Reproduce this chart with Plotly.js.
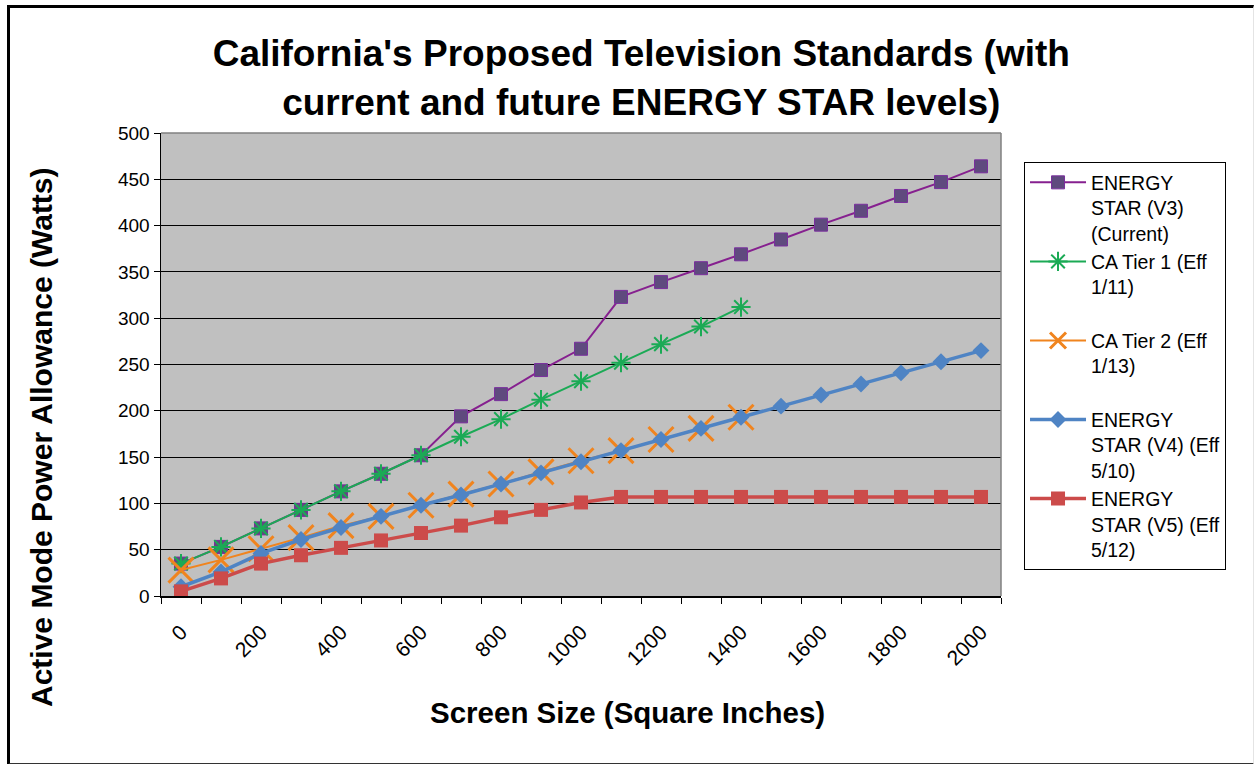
<!DOCTYPE html>
<html>
<head>
<meta charset="utf-8">
<script src="https://cdn.plot.ly/plotly-3.0.1.min.js"></script>
<style>
  html, body { margin: 0; padding: 0; background: #ffffff; }
  #wrap { position: relative; width: 1255px; height: 764px; }
  #chart { position: absolute; left: 0; top: 0; width: 1255px; height: 764px; }
  #frame { position: absolute; left: 7px; top: 5px; width: 1243px; height: 755px;
           border-left: 3px solid #000; border-top: 3px solid #000;
           border-bottom: 2px solid #333; border-right: 1px solid #e4e4e4;
           pointer-events: none; }
</style>
</head>
<body>
<div id="wrap">
  <div id="chart"></div>
  <div id="frame"></div>
</div>
<script>
// Screen sizes (square inches)
const screenSize = [0,100,200,300,400,500,600,700,800,900,1000,1100,1200,1300,1400,1500,1600,1700,1800,1900,2000];
const xTickVals = [0,200,400,600,800,1000,1200,1400,1600,1800,2000];
const xTickText = ['0','200','400','600','800','1000','1200','1400','1600','1800','2000'];

// Series values (Watts)
const energyStarV3 = [35,53,73,93,113,132,152,194,218,244,267,323,339,354,369,385,401,416,432,447,464];
const caTier1      = [35,53,73,93,113,132,152,172,191,212,232,252,272,291,312];
const caTier2      = [28,39,51,63,76,86,98,110,121,134,146,157,169,181,193];
const energyStarV4 = [10,26,46,61,74,86,98,109,121,133,145,157,169,181,193,205,217,229,241,253,265];
const energyStarV5 = [5,19,35,44,52,60,68,76,85,93,101,107,107,107,107,107,107,107,107,107,107];

const names = [
  'ENERGY<br>STAR (V3)<br>(Current)',
  'CA Tier 1 (Eff<br>1/11)<br>\u00a0',
  'CA Tier 2 (Eff<br>1/13)<br>\u00a0',
  'ENERGY<br>STAR (V4) (Eff<br>5/10)',
  'ENERGY<br>STAR (V5) (Eff<br>5/12)'
];

const FONT = 'Liberation Sans, Arial, sans-serif';

const traces = [
  {
    x: screenSize.slice(0, energyStarV3.length), y: energyStarV3, name: names[0], legendgroup: 'a',
    mode: 'lines+markers', line: {color: '#86208F', width: 2},
    marker: {symbol: 'square', size: 13, color: '#5F4A7E', line: {color: '#7A2E9E', width: 1}}
  },
  {
    x: screenSize.slice(0, caTier1.length), y: caTier1, name: names[1], legendgroup: 'b',
    mode: 'lines+markers', line: {color: '#1BAA55', width: 2},
    marker: {symbol: 'asterisk-open', size: 16, color: '#1BAA55', line: {color: '#1BAA55', width: 2}}
  },
  {
    x: screenSize.slice(0, caTier2.length), y: caTier2, name: names[2], legendgroup: 'c',
    mode: 'lines+markers', line: {color: '#F0841E', width: 2},
    marker: {symbol: 'x-thin-open', size: 25, color: '#F0841E', line: {color: '#F0841E', width: 3}}
  },
  {
    x: screenSize.slice(0, energyStarV4.length), y: energyStarV4, name: names[3], legendgroup: 'd',
    mode: 'lines+markers', line: {color: '#4F84C4', width: 3.5},
    marker: {symbol: 'diamond', size: 13, color: '#4F84C4'}
  },
  {
    x: screenSize.slice(0, energyStarV5.length), y: energyStarV5, name: names[4], legendgroup: 'e',
    mode: 'lines+markers', line: {color: '#CC4B4A', width: 3.5},
    marker: {symbol: 'square', size: 14, color: '#CC4B4A'}
  }
];

const layout = {
  width: 1255, height: 764,
  margin: {l: 161, r: 254, t: 133, b: 168, pad: 0},
  paper_bgcolor: '#ffffff',
  plot_bgcolor: '#C0C0C0',
  font: {family: FONT, color: '#000000', size: 19},
  showlegend: true,
  title: {
    text: "California's Proposed Television Standards (with<br>current and future ENERGY STAR levels)",
    font: {family: FONT, size: 37, color: '#000000', weight: 'bold'},
    xref: 'container', x: 0.511, xanchor: 'center',
    yref: 'container', y: 0.913, yanchor: 'top'
  },
  xaxis: {
    range: [-50, 2050],
    tickmode: 'array', tickvals: xTickVals, ticktext: xTickText,
    tickangle: -45, ticks: '', showgrid: false, zeroline: false,
    showline: true, linecolor: '#000000', linewidth: 1.5,
    ticklabelstandoff: 14,
    tickfont: {family: FONT, size: 21, color: '#000000'},
    minor: {tick0: -50, dtick: 100, ticks: 'outside', ticklen: 6, tickcolor: '#000000', tickwidth: 1, showgrid: false},
    fixedrange: true
  },
  yaxis: {
    range: [0, 500], dtick: 50, tick0: 0,
    ticks: 'outside', ticklen: 6, tickcolor: '#000000',
    showgrid: true, gridcolor: '#000000', gridwidth: 1,
    zeroline: false, showline: true, linecolor: '#000000', linewidth: 1.5,
    tickfont: {family: FONT, size: 19, color: '#000000'},
    fixedrange: true
  },
  legend: {
    x: 1.0274, xanchor: 'left', y: 0.937, yanchor: 'top',
    bgcolor: '#ffffff', bordercolor: '#000000', borderwidth: 1,
    font: {family: FONT, size: 19.5, color: '#000000'},
    valign: 'top', itemwidth: 56, tracegroupgap: 0, traceorder: 'normal'
  },
  shapes: [
    {type: 'line', xref: 'paper', yref: 'paper', x0: 0, x1: 1, y0: 1, y1: 1, line: {color: '#808080', width: 1.5}},
    {type: 'line', xref: 'paper', yref: 'paper', x0: 1, x1: 1, y0: 0, y1: 1, line: {color: '#808080', width: 1.5}}
  ],
  annotations: [
    {
      text: 'Screen Size (Square Inches)', showarrow: false,
      xref: 'paper', yref: 'paper', x: (627 - 161) / 840, y: (596 - 712) / 463,
      xanchor: 'center', yanchor: 'middle',
      font: {family: FONT, size: 29.5, color: '#000000', weight: 'bold'}
    },
    {
      text: 'Active Mode Power Allowance (Watts)', showarrow: false, textangle: -90,
      xref: 'paper', yref: 'paper', x: (41 - 161) / 840, y: (596 - 437) / 463,
      xanchor: 'center', yanchor: 'middle',
      font: {family: FONT, size: 30, color: '#000000', weight: 'bold'}
    }
  ]
};

Plotly.newPlot('chart', traces, layout, {displayModeBar: false, staticPlot: true});
</script>
</body>
</html>
